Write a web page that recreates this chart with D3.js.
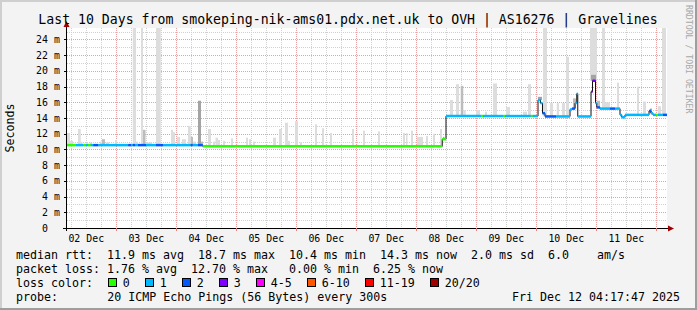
<!DOCTYPE html>
<html><head><meta charset="utf-8">
<script src="https://cdn.jsdelivr.net/npm/d3@7"></script>
<style>
html,body{margin:0;padding:0;background:#f3f3f3;}
svg{display:block;}
text{font-family:"DejaVu Sans Mono",monospace;white-space:pre;}
</style></head><body><svg id="c" width="697" height="310"></svg>
<script>
// ---------------- data ----------------
const startTime = Date.UTC(2025, 11, 2, 4, 17, 47);
const endTime = Date.UTC(2025, 11, 12, 4, 17, 47);
const dayLabels = ["02 Dec","03 Dec","04 Dec","05 Dec","06 Dec","07 Dec","08 Dec","09 Dec","10 Dec","11 Dec"];
const yTicks = [0, 2, 4, 6, 8, 10, 12, 14, 16, 18, 20, 22, 24];
const yMax = 25.46;

// median rtt (ms) as steps: hours since start, value, loss class index
const medianHour = [0, 3.6, 6.5, 7.6, 8.4, 9.5, 10.5, 12.5, 24.5, 25.6, 26.3, 27.3, 28.4, 31.6, 35.6, 38.5, 49.5, 50.3, 52.4,
  54.3, 150.1, 151.6, 165.6, 166.4, 174.5, 175.3, 185.5, 186.3, 188.4, 189.4, 190.2, 191.2, 195.6,
  201.2, 202, 203.2, 203.9, 204.3, 209.6, 210.2, 211.4, 211.9, 213.2, 217.2, 219.2, 221.2, 221.9, 223.2,
  232.8, 233.6, 234.4, 235.6, 236.4, 238.4];
const medianMs = [10.55, 10.55, 10.55, 10.55, 10.55, 10.55, 10.55, 10.55, 10.55, 10.55, 10.55, 10.55, 10.55, 10.55, 10.55, 10.55, 10.55, 10.55, 10.55,
  10.4, 11.3, 14.25, 14.25, 14.25, 14.25, 14.25, 14.25, 14.25, 16.3, 15.9, 14.6, 14.2, 14.2,
  15.1, 15.2, 15.9, 17.1, 14.2, 17.35, 18.75, 15.9, 15.35, 15.2, 15.2, 15.2, 14.4, 14.1, 14.4,
  14.9, 14.6, 14.4, 14.4, 14.4, 14.4];
const medianLoss = [0, 1, 0, 1, 0, 1, 2, 1, 2, 1, 2, 1, 2, 1, 2, 1, 2, 1, 2,
  0, 0, 1, 0, 1, 0, 1, 0, 1, 1, 1, 2, 2, 1,
  1, 2, 1, 1, 1, 3, 3, 1, 2, 1, 2, 1, 1, 1, 1,
  2, 1, 1, 0, 1, 2];

// smoke (ping spread): start hour, width in hours, top (ms), shade (0 light, 1 mid, 2 dark)
const smokeHour = [0, 1.2, 4.4, 5.5, 9.2, 13.2, 14, 15.6, 19.2, 26.3, 27.6, 29.6, 30.4, 31.6, 35.6, 41.6, 42.4, 44, 46, 48.4, 49.5, 50.4, 52.4, 53.6,
  56.4, 58.4, 59.4, 60.4, 62.4, 65.6, 71.6, 72.8, 74.4, 82.4, 84.8, 87.2, 88.4, 91.2, 93.2, 99.2, 102, 105.2, 114, 118.4, 124.4, 134.4, 135.6, 137.6, 140, 143.6, 146.4, 149.2, 150.4,
  153.2, 155.6, 157.5, 158.5, 163.6, 167.2, 170.4, 175.6, 182.4, 184.4, 188.4, 190.4, 193.2, 195.9, 198, 199.6, 202.4, 209.2, 209.6, 212, 214, 215.2, 220, 228, 230.4, 233.2, 236.4, 238];
const smokeSpan = [1.2, 1.2, 1.1, 0.6, 0.8, 0.8, 1.2, 1.2, 0.8, 1.3, 0.8, 0.8, 1, 2.4, 1.9, 0.8, 0.8, 1.2, 1.6, 1.1, 0.9, 1.2, 1.2, 0.8,
  1.2, 0.8, 1, 0.8, 0.8, 0.8, 0.8, 0.8, 0.8, 1.2, 1.2, 1.2, 0.8, 1.2, 0.8, 0.8, 0.8, 0.8, 0.8, 0.8, 0.8, 0.8, 0.6, 0.8, 2.4, 0.8, 0.8, 0.8, 0.6,
  1.2, 1.2, 1, 1, 1.6, 0.8, 1.6, 1.6, 1.6, 1.2, 1.6, 1.6, 1.2, 0.9, 1.2, 1.2, 1.2, 2.8, 2, 1.2, 1.2, 2, 0.8, 0.8, 1.2, 0.8, 1.2, 1.6];
const smokeTop = [12.1, 11.1, 12.6, 11.0, 10.9, 11.0, 11.3, 10.9, 11.2, 26, 11.0, 26, 12.5, 10.9, 26, 12.5, 12.2, 11.6, 11.3, 13.0, 11.6, 11.0, 16.2, 11.0,
  12.6, 11.0, 11.5, 11.2, 11.1, 11.4, 11.5, 11.3, 11.0, 11.5, 12.6, 13.4, 11.1, 13.6, 10.9, 13.2, 12.7, 12.1, 12.6, 12.4, 12.3, 12.1, 12.1, 12.4, 11.6, 11.7, 12.0, 12.6, 11.6,
  16.3, 18.3, 18.1, 15.0, 15.0, 14.8, 18.4, 15.4, 14.8, 18.3, 16.7, 26, 15.9, 15.9, 15.9, 21.8, 16.5, 26, 19.5, 16.2, 26, 16.0, 18.5, 18.0, 16.1, 15.2, 15.5, 26];
const smokeShade = [0, 0, 0, 0, 0, 0, 1, 0, 0, 0, 0, 0, 1, 0, 0, 0, 0, 0, 0, 0, 1, 0, 2, 1,
  0, 0, 0, 0, 0, 0, 0, 0, 0, 0, 0, 0, 0, 0, 0, 0, 0, 0, 0, 0, 0, 0, 0, 0, 0, 0, 0, 0, 2,
  0, 0, 1, 0, 0, 0, 0, 0, 0, 0, 2, 0, 0, 0, 0, 0, 1, 0, 2, 1, 0, 0, 0, 0, 0, 2, 0, 0];

const lossLabels = ["0", "1", "2", "3", "4-5", "6-10", "11-19", "20/20"];
const lossColors = ["#26ff00", "#00b8ff", "#0059ff", "#7e00ff", "#ff00ff", "#ff5500", "#ff0000", "#a10000"];

const title = "Last 10 Days from smokeping-nik-ams01.pdx.net.uk to OVH | AS16276 | Gravelines";
const legendRows = [
  "median rtt:  11.9 ms avg  18.7 ms max  10.4 ms min  14.3 ms now  2.0 ms sd  6.0    am/s",
  "packet loss: 1.76 % avg  12.70 % max   0.00 % min  6.25 % now"
];
const probeText = ["probe:", "20 ICMP Echo Pings (56 Bytes) every 300s", "Fri Dec 12 04:17:47 2025"];

// ---------------- layout ----------------
const W = 697, H = 310;
const L = 67, R = 667, T = 28, B = 228;
const svg = d3.select("#c");
const hourToDate = h => new Date(startTime + h * 3600000);

const x = d3.scaleUtc().domain([new Date(startTime), new Date(endTime)]).range([L, R]);
const y = d3.scaleLinear().domain([0, yMax]).range([B, T]);

// background + frame
svg.append("rect").attr("width", W).attr("height", H).attr("fill", "#f3f3f3");
svg.append("rect").attr("x", 0).attr("y", 0).attr("width", W).attr("height", 2).attr("fill", "#cfcfcf");
svg.append("rect").attr("x", 0).attr("y", 0).attr("width", 2).attr("height", H).attr("fill", "#cfcfcf");
svg.append("rect").attr("x", W - 2).attr("y", 0).attr("width", 2).attr("height", H).attr("fill", "#9e9e9e");
svg.append("rect").attr("x", 0).attr("y", H - 2).attr("width", W).attr("height", 2).attr("fill", "#9e9e9e");
svg.append("rect").attr("x", L).attr("y", T).attr("width", R - L).attr("height", B - T).attr("fill", "#ffffff");

// grid
const g = svg.append("g");
const minorY = d3.range(1, 26, 2);
g.selectAll(".gy").data(minorY).join("line")
  .attr("x1", L).attr("x2", R).attr("y1", d => Math.round(y(d)) + 0.5).attr("y2", d => Math.round(y(d)) + 0.5)
  .attr("stroke", "#d0d0d0").attr("stroke-dasharray", "1,1");
const sixH = x.ticks(d3.utcHour.every(6)).filter(d => d.getUTCHours() !== 0);
g.selectAll(".gx").data(sixH).join("line")
  .attr("x1", d => Math.round(x(d)) + 0.5).attr("x2", d => Math.round(x(d)) + 0.5).attr("y1", T).attr("y2", B)
  .attr("stroke", "#d0d0d0").attr("stroke-dasharray", "1,1");
g.selectAll(".my").data(yTicks.filter(d => d > 0)).join("line")
  .attr("x1", L).attr("x2", R).attr("y1", d => Math.round(y(d)) + 0.5).attr("y2", d => Math.round(y(d)) + 0.5)
  .attr("stroke", "#e8a0a0").attr("stroke-dasharray", "1,1");
const midnights = x.ticks(d3.utcDay.every(1));
g.selectAll(".mx").data(midnights).join("line")
  .attr("x1", d => Math.round(x(d)) + 0.5).attr("x2", d => Math.round(x(d)) + 0.5).attr("y1", T).attr("y2", B)
  .attr("stroke", "#e8a0a0").attr("stroke-dasharray", "1,1");

// median lookup for smoke base
function medianAt(h) {
  let i = d3.bisectRight(medianHour, h) - 1;
  if (i < 0) i = 0;
  return medianMs[i];
}
const shadeColors = ["#dddddd", "#bcbcbc", "#a4a4a4"];
const smoke = smokeHour.map((h, i) => ({h, w: smokeSpan[i], top: smokeTop[i], s: smokeShade[i]}));
svg.append("g").selectAll("rect").data(smoke).join("rect")
  .attr("x", d => x(hourToDate(d.h)))
  .attr("width", d => x(hourToDate(d.h + d.w)) - x(hourToDate(d.h)))
  .attr("y", d => y(Math.min(d.top, yMax)))
  .attr("height", d => y(medianAt(d.h + d.w / 2)) - y(Math.min(d.top, yMax)))
  .attr("fill", d => shadeColors[d.s]);

// median black step line
const med = medianHour.map((h, i) => ({h, v: medianMs[i], l: medianLoss[i], h2: i < medianHour.length - 1 ? medianHour[i + 1] : 240}));
const stepPts = med.map(d => [x(hourToDate(d.h)), y(d.v)]);
stepPts.push([x(hourToDate(240)), y(medianMs[medianMs.length - 1])]);
svg.append("path").attr("d", d3.line().curve(d3.curveStepAfter)(stepPts))
  .attr("fill", "none").attr("stroke", "#111").attr("stroke-width", 1);
// loss colored segments
svg.append("g").selectAll("line").data(med).join("line")
  .attr("x1", d => x(hourToDate(d.h))).attr("x2", d => x(hourToDate(d.h2)))
  .attr("y1", d => y(d.v)).attr("y2", d => y(d.v))
  .attr("stroke", d => lossColors[d.l]).attr("stroke-width", 2.5);

// axes
const ax = svg.append("g");
ax.append("line").attr("x1", L - 0.5).attr("x2", L - 0.5).attr("y1", B + 3).attr("y2", 24).attr("stroke", "#000");
ax.append("line").attr("x1", L - 4).attr("x2", R + 2).attr("y1", B + 0.5).attr("y2", B + 0.5).attr("stroke", "#000");
ax.append("path").attr("d", `M${L - 3.5},${27} L${L - 0.5},${21} L${L + 2.5},${27} Z`).attr("fill", "#a00000");
ax.append("path").attr("d", `M${R + 1},${B - 2.5} L${R + 7},${B + 0.5} L${R + 1},${B + 3.5} Z`).attr("fill", "#a00000");
ax.selectAll(".ty").data(yTicks).join("line")
  .attr("x1", L - 3).attr("x2", L).attr("y1", d => Math.round(y(d)) + 0.5).attr("y2", d => Math.round(y(d)) + 0.5)
  .attr("stroke", "#000");
ax.selectAll(".tx").data(midnights).join("line")
  .attr("x1", d => Math.round(x(d)) + 0.5).attr("x2", d => Math.round(x(d)) + 0.5).attr("y1", B).attr("y2", B + 3)
  .attr("stroke", "#e08080");

// y labels
const yl = ax.append("g").attr("font-size", "9.9px").attr("fill", "#000");
yl.selectAll(".yn").data(yTicks).join("text")
  .attr("x", 48).attr("y", d => y(d) + 3.5).attr("text-anchor", "end").text(d => d);
yl.selectAll(".yu").data(yTicks.filter(d => d > 0)).join("text")
  .attr("x", 54).attr("y", d => y(d) + 3.5).text("m");
// x labels at noon
const noons = dayLabels.map((lab, i) => ({lab, t: new Date(Date.UTC(2025, 11, 2 + i, 12, 0, 0))}));
ax.selectAll(".xl").data(noons).join("text")
  .attr("x", d => x(d.t)).attr("y", 241.5).attr("text-anchor", "middle")
  .attr("font-size", "9.9px").text(d => d.lab);

// vertical axis title
svg.append("text").attr("transform", "translate(14,128) rotate(-90)").attr("text-anchor", "middle")
  .attr("font-size", "11.6px").text("Seconds");

// title
svg.append("text").attr("x", 348).attr("y", 23.5).attr("text-anchor", "middle")
  .attr("font-size", "13.2px").text(title);

// watermark
svg.append("text").attr("transform", "translate(686,5) rotate(90)")
  .attr("font-size", "8.2px").attr("fill", "#a8a8a8").text("RRDTOOL / TOBI OETIKER");

// legend
const lg = svg.append("g").attr("font-size", "11.63px").attr("fill", "#000");
lg.append("text").attr("x", 16).attr("y", 258.5).text(legendRows[0]);
lg.append("text").attr("x", 16).attr("y", 272.5).text(legendRows[1]);
lg.append("text").attr("x", 16).attr("y", 286.5).text("loss color:");
let lx = 108;
lossLabels.forEach((lab, i) => {
  lg.append("rect").attr("x", lx + 0.5).attr("y", 278.5).attr("width", 8).attr("height", 8)
    .attr("fill", lossColors[i]).attr("stroke", "#000").attr("stroke-width", 1);
  lg.append("text").attr("x", lx + 14.7).attr("y", 286.5).text(lab);
  lx += 14.7 + 7 * lab.length + 15.3;
});
lg.append("text").attr("x", 16).attr("y", 300.5).text(probeText[0]);
lg.append("text").attr("x", 107.3).attr("y", 300.5).text(probeText[1]);
lg.append("text").attr("x", 680).attr("y", 300.5).attr("text-anchor", "end").text(probeText[2]);
</script></body></html>
